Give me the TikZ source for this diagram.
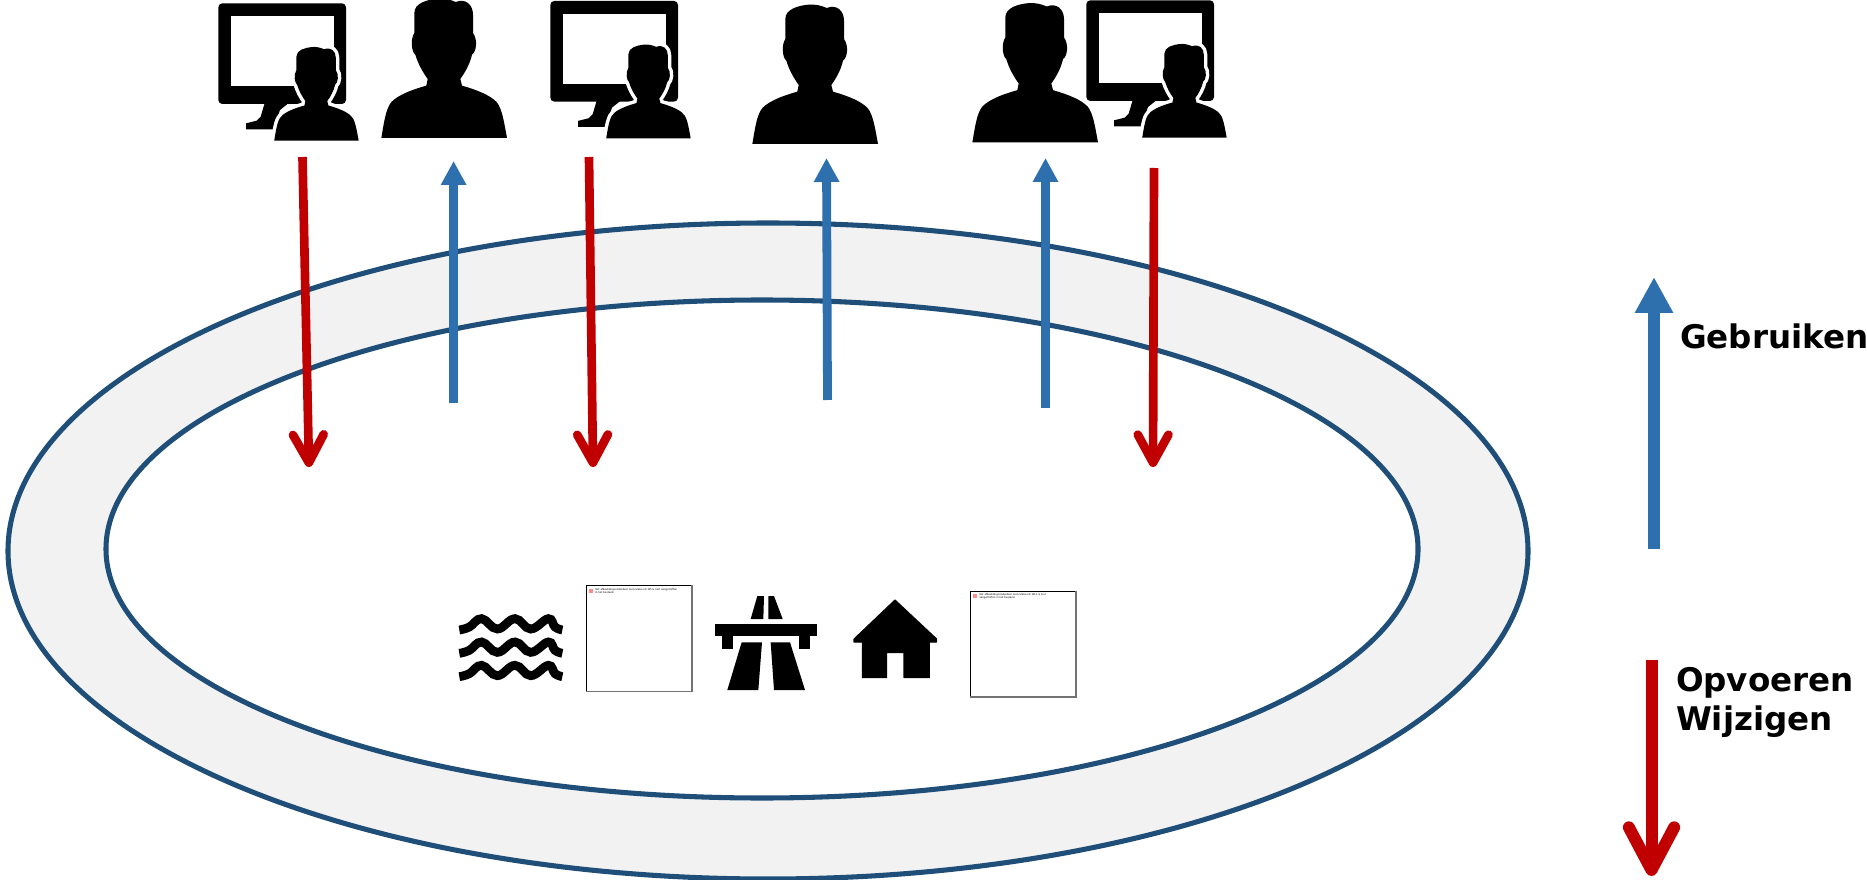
\documentclass[tikz,border=0pt]{standalone}
\usepackage{fontspec}
\setmainfont{DejaVu Sans}
\usetikzlibrary{arrows.meta}
\definecolor{rd}{HTML}{C00000}
\definecolor{bl}{HTML}{2E6FAE}
\definecolor{ringline}{HTML}{1F4E79}
\definecolor{ringfill}{HTML}{F2F2F2}
\newcommand{\personplot}{(-188,0) .. controls (-178,-60) and (-172,-100) .. (-150,-115) .. controls (-125,-135) and (-85,-148) .. (-53,-157) -- (-49,-177) .. controls (-62,-195) and (-78,-222) .. (-86,-250) .. controls (-97,-258) and (-102,-295) .. (-89,-315) -- (-89,-375) .. controls (-89,-405) and (-50,-415) .. (-20,-418) .. controls (0,-420) and (20,-415) .. (35,-408) .. controls (65,-420) and (87,-400) .. (87,-370) -- (87,-315) .. controls (102,-295) and (97,-258) .. (84,-250) .. controls (78,-222) and (62,-195) .. (49,-177) -- (54,-157) .. controls (85,-148) and (125,-135) .. (150,-115) .. controls (172,-100) and (178,-60) .. (189,0) -- cycle}
\newcommand{\bigperson}[2]{\begin{scope}[shift={(#1,#2)},x=.25pt,y=-.25pt]\fill[black] \personplot;\end{scope}}
\newcommand{\operatoricon}[2]{%
\begin{scope}[shift={(#1,#2)},x=.25pt,y=-.25pt]
 \fill[black,rounded corners=3pt] (55,10) rectangle (438,312);
 \fill[white] (92,48) rectangle (402,258);
 \fill[black] (195,306) -- (270,306) -- (240,330) -- (220,388) -- (138,388) -- (138,370) -- (170,362) -- (182,350) -- cycle;
 \begin{scope}[shift={(349,422)},x=.168pt,y=-.168pt]
  \draw[white,line width=5.2pt,line join=round] \personplot;
  \fill[black] \personplot;
 \end{scope}
 \fill[white] (200,423) rectangle (500,445);
\end{scope}}
\tikzset{
 redarrow/.style={draw=rd,line width=6.5pt,-{Straight Barb[length=21pt,width=23pt,line width=6.5pt,round]}},
 bluearrow/.style={draw=bl,line width=6.6pt,-{Triangle[length=18pt,width=18pt]}},
 bigred/.style={draw=rd,line width=9pt,-{Straight Barb[length=32pt,width=34pt,line width=9pt,round]}},
 bigblue/.style={draw=bl,line width=9pt,-{Triangle[length=27pt,width=27pt]}},
 ring/.style={draw=ringline,line width=3.8pt},
 legend/.style={font=\bfseries\fontsize{24.4pt}{26pt}\selectfont,anchor=base west,inner sep=0pt,outer sep=0pt},
 missing/.style={draw=black,line width=.8pt,fill=white},
 missingedge/.style={draw=black!55,line width=1.1pt},
 tiny/.style={font=\fontsize{1.9pt}{2.6pt}\selectfont,anchor=north west,inner sep=0pt,align=left}
}
\begin{document}
\begin{tikzpicture}[x=.75pt,y=-.75pt]
\useasboundingbox (0,0) rectangle (1867,880);
\begin{scope}
\clip (0,0) rectangle (1867,880);
\draw[ring,fill=ringfill] (768,551) ellipse [x radius=760,y radius=328];
\draw[ring,fill=white] (762,549) ellipse [x radius=656,y radius=249];
\end{scope}
% users
\operatoricon{200}{0}
\bigperson{444}{138}
\operatoricon{532}{-2.4}
\bigperson{815}{144}
\bigperson{1035}{142.5}
\operatoricon{1068}{-3}
% water
\begin{scope}[shift={(440,570)},x=.25pt,y=-.25pt]
\foreach \dy in {0,70,140}{
 \draw[black,line width=6.6pt,shift={(0,\dy)}] plot[smooth,tension=.7] coordinates {(58,180) (88,171) (125,146) (172,177) (225,146) (272,177) (325,146) (345,171) (367,180)};
}
\end{scope}
% missing image 1
\node[missing,minimum width=79pt,minimum height=79pt,inner sep=0pt] (imgA) at (639,638.5) {};
\draw[missingedge] (imgA.north east) -- (imgA.south east) -- (imgA.south west);
\node[tiny] (txtA) at (595,588) {Het afbeeldingsonderdeel met relatie-id rId5 is niet aangetroffen\\in het bestand.};
\fill[red!45] (588.5,588.5) rectangle +(4.5,4.5);
% highway
\begin{scope}[shift={(700,570)},x=.25pt,y=-.25pt]
\fill (152,147) -- (172,78) -- (192,78) -- (190,147) -- cycle;
\fill (205,147) -- (205,78) -- (222,78) -- (248,147) -- cycle;
\fill (46,162) rectangle (350,197);
\fill (67,197) rectangle (100,237);
\fill (296,197) rectangle (330,237);
\fill (82,360) -- (125,217) -- (186,217) -- (175,360) -- cycle;
\fill (222,360) -- (212,217) -- (270,217) -- (315,360) -- cycle;
% house
\filldraw[line width=.8pt,line join=round] (462,207) -- (585,90) -- (710,207) -- (710,216) -- (688,216) -- (688,323) -- (612,323) -- (612,248) -- (560,248) -- (560,323) -- (487,323) -- (487,216) -- (462,216) -- cycle;
\end{scope}
% missing image 2
\node[missing,minimum width=79pt,minimum height=79pt,inner sep=0pt] (imgB) at (1023,644) {};
\draw[missingedge] (imgB.north east) -- (imgB.south east) -- (imgB.south west);
\node[tiny] (txtB) at (979,593) {Het afbeeldingsonderdeel met relatie-id rId11 is niet\\aangetroffen in het bestand.};
\fill[red!45] (972.5,593.5) rectangle +(4.5,4.5);
% connectors
\coordinate (r1a) at (302.5,157); \coordinate (r1b) at (309,467);
\coordinate (r2a) at (589,157);   \coordinate (r2b) at (593,467);
\coordinate (r3a) at (1154,168);  \coordinate (r3b) at (1153,467);
\coordinate (b1a) at (453.6,403.5); \coordinate (b1b) at (453.6,161);
\coordinate (b2a) at (827.5,400);  \coordinate (b2b) at (826.5,158);
\coordinate (b3a) at (1045.5,408.5); \coordinate (b3b) at (1045.5,158);
\draw[redarrow] (r1a) -- (r1b);
\draw[redarrow] (r2a) -- (r2b);
\draw[redarrow] (r3a) -- (r3b);
\draw[bluearrow] (b1a) -- (b1b);
\draw[bluearrow] (b2a) -- (b2b);
\draw[bluearrow] (b3a) -- (b3b);
% legend
\coordinate (lba) at (1654,549); \coordinate (lbb) at (1654,277);
\coordinate (lra) at (1651.5,660); \coordinate (lrb) at (1651.5,876);
\draw[bigblue] (lba) -- (lbb);
\draw[bigred] (lra) -- (lrb);
\node[legend] (gebruiken) at (1680,349) {Gebruiken};
\node[legend] (opvoeren) at (1676,691) {Opvoeren};
\node[legend] (wijzigen) at (1676,730) {Wijzigen};
\end{tikzpicture}
\end{document}
